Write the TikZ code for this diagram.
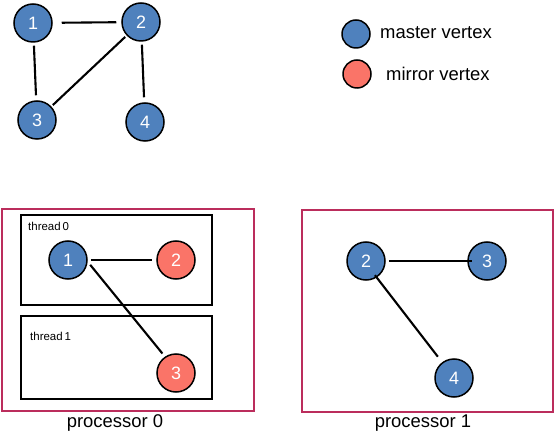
\documentclass[tikz,border=0pt]{standalone}
\usepackage{fontspec}
\setmainfont{Liberation Sans}
\definecolor{vblue}{HTML}{4F81BD}
\definecolor{vred}{HTML}{FA7468}
\definecolor{pcrim}{HTML}{BB2D5C}
\tikzset{
  vtx/.style={circle, draw=black, line width=1.5bp, minimum size=38bp, inner sep=0pt,
    text=white, font=\fontsize{18}{18}\selectfont},
  master/.style={vtx, fill=vblue},
  mirror/.style={vtx, fill=vred},
  legvtx/.style={circle, draw=black, line width=1.5bp, minimum size=28bp, inner sep=0pt},
  edge/.style={draw=black, line width=2.1bp},
  procbox/.style={draw=pcrim, line width=2bp},
  thrbox/.style={draw=black, line width=2bp},
  bigtext/.style={font=\fontsize{18.5}{18.5}\selectfont, inner sep=0pt},
  smalltext/.style={font=\fontsize{11.5}{11.5}\selectfont, inner sep=0pt, anchor=west}
}
\begin{document}
\begin{tikzpicture}[x=1bp, y=-1bp]
\useasboundingbox (0,0) rectangle (556,437);
% top graph
\node[master] (t1) at (33,23) {1};
\node[master] (t2) at (141,22) {2};
\node[master] (t3) at (37,120) {3};
\node[master] (t4) at (145,122) {4};
\draw[edge, shorten <=9bp, shorten >=5bp] (t1) -- (t2);
\draw[edge, shorten <=3bp, shorten >=5bp] (t1) -- (t3);
\draw[edge, shorten <=2bp, shorten >=2bp] (t2) -- (t3);
\draw[edge, shorten <=3bp, shorten >=5bp] (t2) -- (t4);
% legend
\node[legvtx, fill=vblue] (lm) at (356,34) {};
\node[bigtext, anchor=west] (lmt) at (380,33) {master vertex};
\node[legvtx, fill=vred] (lr) at (357,74) {};
\node[bigtext, anchor=west] (lrt) at (386,74) {mirror vertex};
% processor 0
\draw[procbox] (2,209) rectangle (254,411);
\draw[thrbox] (21,215) rectangle (212,305);
\draw[thrbox] (21,316) rectangle (212,399);
\node[smalltext] (th0) at (28,226) {thread\,0};
\node[smalltext] (th1) at (30,336) {thread\,1};
\node[master] (a1) at (68,260) {1};
\node[mirror] (a2) at (176,260) {2};
\node[mirror] (a3) at (176,373) {3};
\draw[edge, shorten <=3bp, shorten >=4bp] (a1) -- (a2);
\draw[edge, shorten <=4bp, shorten >=4bp] (a1.-5) -- (a3.124);
\node[bigtext] (p0) at (115,423) {processor 0};
% processor 1
\draw[procbox] (302,210) rectangle (553,412);
\node[master] (b2) at (366,261) {2};
\node[master] (b3) at (487,261) {3};
\node[master] (b4) at (454,378) {4};
\draw[edge, shorten <=3bp, shorten >=-5bp] (b2) -- (b3);
\draw[edge, shorten <=-3bp, shorten >=7bp] (b2.-57) -- (b4.127);
\node[bigtext] (p1) at (423,423) {processor 1};
\end{tikzpicture}
\end{document}
